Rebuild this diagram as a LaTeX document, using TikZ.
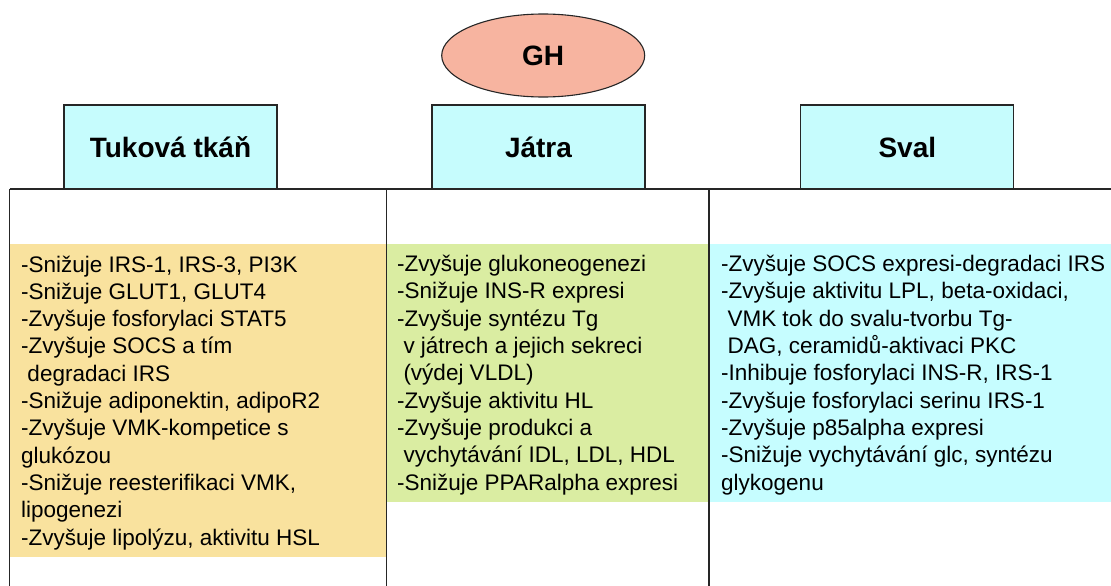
\documentclass[tikz,border=0pt]{standalone}
\usepackage{fontspec}
\setmainfont{Liberation Sans}
\usetikzlibrary{shapes.geometric}
\definecolor{titlecyan}{HTML}{C6FCFD}
\definecolor{fatyellow}{HTML}{F9E29E}
\definecolor{livergreen}{HTML}{DAEDA2}
\definecolor{musclecyan}{HTML}{C6FDFF}
\definecolor{ghsalmon}{HTML}{F7B4A0}
\definecolor{rulegray}{HTML}{262626}
\tikzset{
  organbox/.style  ={draw=rulegray,line width=1.1pt,fill=titlecyan,inner sep=0pt,
                      font=\fontsize{28pt}{32pt}\selectfont\bfseries,
                      minimum width=213pt,minimum height=84pt},
  hormone/.style   ={ellipse,draw=rulegray,line width=1.1pt,fill=ghsalmon,inner sep=0pt,
                      font=\fontsize{28pt}{32pt}\selectfont\bfseries,
                      minimum width=203pt,minimum height=83pt},
  panel/.style     ={inner sep=0pt,anchor=north west},
  effects/.style   ={align=left,inner sep=0pt,anchor=base west,
                      font=\fontsize{22.5pt}{27.3pt}\selectfont},
  gridline/.style  ={draw=rulegray,line width=1.1pt},
}
\newcommand{\indentsp}{\hspace*{0.28em}}

\begin{document}
\begin{tikzpicture}[x=1pt,y=-1pt]
\useasboundingbox (0,0) rectangle (1111,586);
% ---- coloured panels ----
\node[panel,fill=fatyellow,minimum width=377pt,minimum height=313pt]   (fatbg)    at (10,244)  {};
\node[panel,fill=livergreen,minimum width=322pt,minimum height=258pt]  (liverbg)  at (387,244) {};
\node[panel,fill=musclecyan,minimum width=402pt,minimum height=258pt]  (musclebg) at (709,244) {};
% ---- table frame ----
\coordinate (tabtl) at (9.6,189);
\coordinate (tabtr) at (1111,189);
\draw[gridline] (tabtl) -- (tabtr);
\foreach \x in {9.6,386.8,709} \draw[gridline] (\x,189) -- (\x,586);
% ---- organ headers and hormone ----
\node[organbox] (fat)    at (170.5,147) {Tuková tkáň};
\node[organbox] (liver)  at (538.5,147) {Játra};
\node[organbox] (muscle) at (907.3,147) {Sval};
\node[hormone]  (gh)     at (543.2,55.5) {GH};
% ---- effects (placed by the baseline of the last line) ----
\node[effects] (fatlist) at (21,545) {-Snižuje IRS-1, IRS-3, PI3K\\
-Snižuje GLUT1, GLUT4\\
-Zvyšuje fosforylaci STAT5\\
-Zvyšuje SOCS a tím\\
\indentsp degradaci IRS\\
-Snižuje adiponektin, adipoR2\\
-Zvyšuje VMK-kompetice s\\
glukózou\\
-Snižuje reesterifikaci VMK,\\
lipogenezi\\
-Zvyšuje lipolýzu, aktivitu HSL};
\node[effects] (liverlist) at (397,490) {-Zvyšuje glukoneogenezi\\
-Snižuje INS-R expresi\\
-Zvyšuje syntézu Tg\\
\indentsp v játrech a jejich sekreci\\
\indentsp (výdej VLDL)\\
-Zvyšuje aktivitu HL\\
-Zvyšuje produkci a\\
\indentsp vychytávání IDL, LDL, HDL\\
-Snižuje PPARalpha expresi};
\node[effects] (musclelist) at (721,490) {-Zvyšuje SOCS expresi-degradaci IRS\\
-Zvyšuje aktivitu LPL, beta-oxidaci,\\
\indentsp VMK tok do svalu-tvorbu Tg-\\
\indentsp DAG, ceramidů-aktivaci PKC\\
-Inhibuje fosforylaci INS-R, IRS-1\\
-Zvyšuje fosforylaci serinu IRS-1\\
-Zvyšuje p85alpha expresi\\
-Snižuje vychytávání glc, syntézu\\
glykogenu};
\end{tikzpicture}
\end{document}
